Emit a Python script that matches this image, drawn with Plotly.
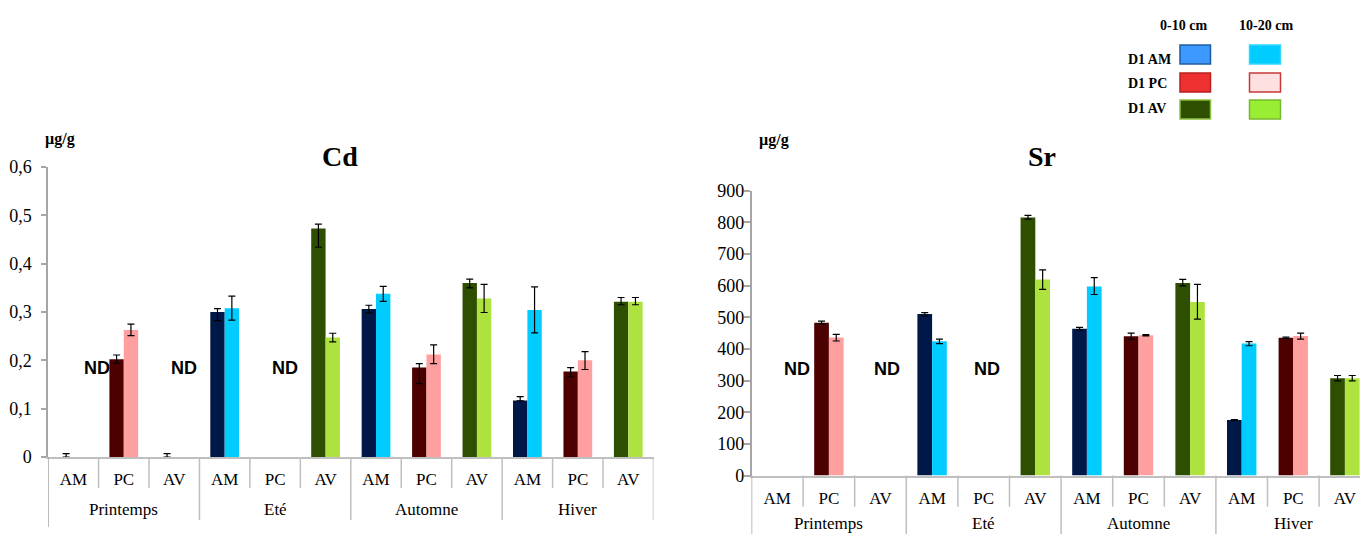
import plotly.graph_objects as go

W, H = 1360, 534

# ---------------- data ----------------
seasons = ["Printemps", "Eté", "Automne", "Hiver"]
sites = ["AM", "PC", "AV"]
site_labels = sites * 4

# Cd (µg/g)  order: Printemps AM,PC,AV | Eté AM,PC,AV | Automne ... | Hiver ...
cd_0_10 = [0, 0.202, 0, 0.300, None, 0.473, 0.306, 0.185, 0.360, 0.117, 0.177, 0.321]
cd_0_10_plus = [0.007, 0.009, 0.007, 0.007, 0, 0.009, 0.008, 0.008, 0.008, 0.008, 0.008, 0.009]
cd_0_10_minus = [0, 0.008, 0, 0.018, 0, 0.039, 0.008, 0.033, 0.010, 0.001, 0.011, 0.006]
cd_10_20 = [None, 0.263, None, 0.308, None, 0.247, 0.338, 0.212, 0.328, 0.304, 0.200, 0.321]
cd_10_20_plus = [0, 0.012, 0, 0.025, 0, 0.009, 0.015, 0.020, 0.029, 0.048, 0.018, 0.009]
cd_10_20_minus = [0, 0.012, 0, 0.025, 0, 0.009, 0.016, 0.019, 0.029, 0.047, 0.019, 0.006]

# Sr (µg/g)
sr_0_10 = [None, 483, None, 510, None, 815, 464, 440, 608, 175, 435, 307]
sr_0_10_plus = [0, 5, 0, 5, 0, 7, 4, 10, 12, 2, 2, 9]
sr_0_10_minus = [0, 4, 0, 6, 0, 5, 4, 9, 9, 2, 2, 8]
sr_10_20 = [None, 436, None, 424, None, 619, 597, 443, 548, 417, 441, 307]
sr_10_20_plus = [0, 10, 0, 7, 0, 31, 28, 2, 56, 6, 9, 9]
sr_10_20_minus = [0, 11, 0, 7, 0, 31, 25, 2, 54, 7, 10, 8]

cd_ticks = [0, 0.1, 0.2, 0.3, 0.4, 0.5, 0.6]
cd_ticktext = ["0", "0,1", "0,2", "0,3", "0,4", "0,5", "0,6"]
sr_ticks = [0, 100, 200, 300, 400, 500, 600, 700, 800, 900]

# colours per site: (0-10 cm, 10-20 cm)
site_colors = {"AM": ("#001848", "#00CCFF"),
               "PC": ("#4D0000", "#FF9F9F"),
               "AV": ("#2F4F00", "#AEE33F")}
col_0_10 = [site_colors[s][0] for s in site_labels]
col_10_20 = [site_colors[s][1] for s in site_labels]

SERIF = "Liberation Serif"
SANS = "Liberation Sans"


def px(x):
    return x / W


def py(y):
    return 1 - y / H


xs = list(range(12))


def err(plus, minus):
    return dict(type="data", symmetric=False, array=plus, arrayminus=minus,
                color="black", thickness=1.2, width=3.5)


fig = go.Figure()
fig.add_trace(go.Bar(x=xs, y=cd_0_10, marker=dict(color=col_0_10, line=dict(width=0)),
                     error_y=err(cd_0_10_plus, cd_0_10_minus), xaxis="x", yaxis="y",
                     name="0-10 cm", showlegend=False))
fig.add_trace(go.Bar(x=xs, y=cd_10_20, marker=dict(color=col_10_20, line=dict(width=0)),
                     error_y=err(cd_10_20_plus, cd_10_20_minus), xaxis="x", yaxis="y",
                     name="10-20 cm", showlegend=False))
fig.add_trace(go.Bar(x=xs, y=sr_0_10, marker=dict(color=col_0_10, line=dict(width=0)),
                     error_y=err(sr_0_10_plus, sr_0_10_minus), xaxis="x2", yaxis="y2",
                     name="0-10 cm", showlegend=False))
fig.add_trace(go.Bar(x=xs, y=sr_10_20, marker=dict(color=col_10_20, line=dict(width=0)),
                     error_y=err(sr_10_20_plus, sr_10_20_minus), xaxis="x2", yaxis="y2",
                     name="10-20 cm", showlegend=False))

# geometry (pixels)
L_X0, L_CW = 48.1, 50.45
L_Y0, L_YTOP = 457, 167
R_X0, R_CW = 751.5, 51.6
R_Y0, R_YTOP = 475.5, 190.7
AXC = "#A6A6A6"
SEPC = "#BFBFBF"

tickfont = dict(family=SERIF, size=17, color="black")
ytickfont = dict(family=SERIF, size=18, color="black")

fig.update_layout(
    width=W, height=H, autosize=False,
    margin=dict(l=0, r=0, t=0, b=0, pad=0, autoexpand=False),
    paper_bgcolor="white", plot_bgcolor="white",
    barmode="group", bargap=0.43, bargroupgap=0,
    showlegend=False,
    xaxis=dict(domain=[px(L_X0), px(L_X0 + 12 * L_CW)], range=[-0.5, 11.5],
               tickmode="array", tickvals=xs, ticktext=site_labels, ticks="",
               tickfont=tickfont, ticklabelstandoff=6,
               showline=True, linecolor=SEPC, linewidth=2, showgrid=False,
               zeroline=False, anchor="y", automargin=False),
    yaxis=dict(domain=[py(L_Y0), py(L_YTOP)], range=[0, 0.6],
               tickmode="array", tickvals=cd_ticks, ticktext=cd_ticktext,
               ticks="outside", ticklen=5, tickcolor=AXC, tickwidth=1.5,
               tickfont=ytickfont, ticklabelstandoff=6,
               showline=True, linecolor=AXC, linewidth=1.5, showgrid=False,
               zeroline=False, anchor="x", automargin=False),
    xaxis2=dict(domain=[px(R_X0), 1.0], range=[-0.5, -0.5 + (W - R_X0) / R_CW],
                tickmode="array", tickvals=xs, ticktext=site_labels, ticks="",
                tickfont=tickfont, ticklabelstandoff=6,
                showline=True, linecolor=SEPC, linewidth=2, showgrid=False,
                zeroline=False, anchor="y2", automargin=False),
    yaxis2=dict(domain=[py(R_Y0), py(R_YTOP)], range=[0, 900],
                tickmode="array", tickvals=sr_ticks,
                ticks="outside", ticklen=6, tickcolor=AXC, tickwidth=1.5,
                tickfont=ytickfont, ticklabelstandoff=-4,
                showline=True, linecolor=AXC, linewidth=1.5, showgrid=False,
                zeroline=False, anchor="x2", automargin=False),
)

shapes = []
# category separators - left chart
for k in range(13):
    if k == 0:
        yb = 527
    elif k % 3 == 0:
        yb = 520
    else:
        yb = 488
    shapes.append(dict(type="line", xref="x", yref="paper", x0=k - 0.5, x1=k - 0.5,
                       y0=py(L_Y0), y1=py(yb), line=dict(color=SEPC if k else AXC, width=1.5)))
# category separators - right chart
for k in range(12):
    yb = 534 if k % 3 == 0 else 506.7
    shapes.append(dict(type="line", xref="x2", yref="paper", x0=k - 0.5, x1=k - 0.5,
                       y0=py(R_Y0), y1=py(yb), line=dict(color=SEPC if k else AXC, width=1.5)))

annotations = []
# season labels
for i, s in enumerate(seasons):
    annotations.append(dict(text=s, x=3 * i + 1, xref="x", y=py(509.5), yref="paper",
                            showarrow=False, xanchor="center", yanchor="middle",
                            font=dict(family=SERIF, size=17, color="black")))
    annotations.append(dict(text=s, x=3 * i + 1, xref="x2", y=py(523), yref="paper",
                            showarrow=False, xanchor="center", yanchor="middle",
                            font=dict(family=SERIF, size=17, color="black")))

# titles and units
for txt, x, y, size in [("Cd", 340, 156, 28), ("Sr", 1042, 156, 28),
                        ("µg/g", 60, 139, 16), ("µg/g", 774, 140, 16)]:
    annotations.append(dict(text="<b>%s</b>" % txt, x=px(x), y=py(y), xref="paper", yref="paper",
                            showarrow=False, xanchor="center", yanchor="middle",
                            font=dict(family=SERIF, size=size, color="black")))

# ND markers
for x, y in [(97, 368), (184, 368), (285, 368), (797, 369), (887, 369), (987, 369)]:
    annotations.append(dict(text="<b>ND</b>", x=px(x), y=py(y), xref="paper", yref="paper",
                            showarrow=False, xanchor="center", yanchor="middle",
                            font=dict(family=SANS, size=18, color="black")))

# custom legend
legend_headers = [("0-10 cm", 1183, 25), ("10-20 cm", 1266, 25)]
for txt, x, y in legend_headers:
    annotations.append(dict(text="<b>%s</b>" % txt, x=px(x), y=py(y), xref="paper", yref="paper",
                            showarrow=False, xanchor="center", yanchor="middle",
                            font=dict(family=SERIF, size=14, color="black")))
legend_rows = [("D1 AM", 59, 45, 64, ("#3D99FF", "#1F5C9E"), ("#00CCFF", "#33D6FF")),
               ("D1 PC", 83, 73, 92, ("#EE3030", "#B82020"), ("#FFE0E0", "#C83838")),
               ("D1 AV", 109, 100, 119, ("#2F4F00", "#8CC040"), ("#99EE33", "#77B830"))]
for txt, yc, y0, y1, c1, c2 in legend_rows:
    annotations.append(dict(text="<b>%s</b>" % txt, x=px(1126), y=py(yc), xref="paper", yref="paper",
                            showarrow=False, xanchor="left", yanchor="middle",
                            font=dict(family=SERIF, size=14, color="black")))
    shapes.append(dict(type="rect", xref="paper", yref="paper", x0=px(1180), x1=px(1210.5),
                       y0=py(y1), y1=py(y0), fillcolor=c1[0], line=dict(color=c1[1], width=1.5)))
    shapes.append(dict(type="rect", xref="paper", yref="paper", x0=px(1249.5), x1=px(1280.5),
                       y0=py(y1), y1=py(y0), fillcolor=c2[0], line=dict(color=c2[1], width=1.5)))

fig.update_layout(shapes=shapes, annotations=annotations)

fig.write_html("out.html", config={"responsive": False, "displayModeBar": False},
               post_script="document.body.style.margin='0';document.body.style.overflow='hidden';")
